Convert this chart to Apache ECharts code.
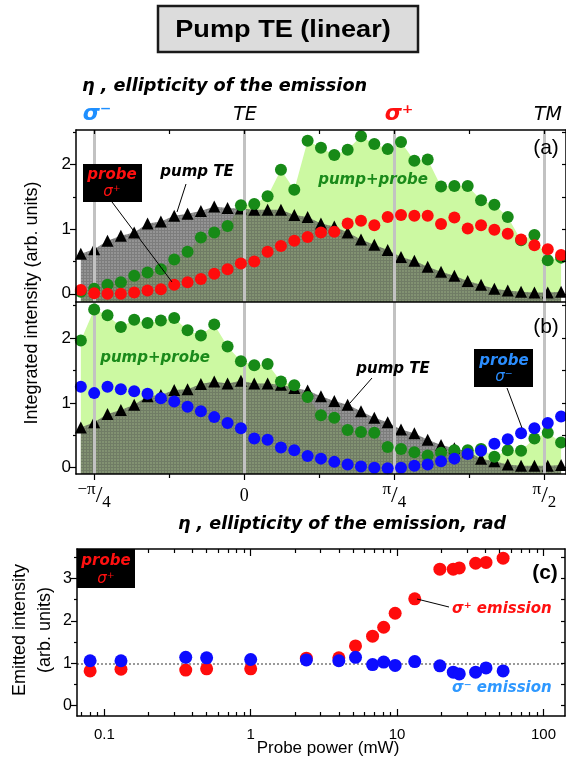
<!DOCTYPE html>
<html><head><meta charset="utf-8">
<script src="https://cdn.jsdelivr.net/npm/echarts@6/dist/echarts.min.js"></script>
<style>html,body{margin:0;padding:0;background:#fff}#c{width:566px;height:760px}</style>
</head><body><div id="c"></div>
<script>
// ---------- DATA ----------
const etaDeg = [-49,-45,-41,-37,-33,-29,-25,-21,-17,-13,-9,-5,-1,3,7,11,15,19,23,27,31,35,39,43,47,51,55,59,63,67,71,75,79,83,87,91,95];
// panel (a): probe sigma+
const pumpTE_a = [0.62,0.69,0.82,0.90,0.95,1.09,1.12,1.21,1.24,1.28,1.35,1.33,1.32,1.30,1.30,1.30,1.22,1.19,1.09,1.04,0.95,0.84,0.76,0.68,0.57,0.51,0.42,0.34,0.28,0.20,0.14,0.08,0.05,0.03,0.02,0.02,0.03];
const pumpProbe_a = [0.03,0.08,0.14,0.18,0.28,0.33,0.38,0.53,0.65,0.87,0.95,1.05,1.37,1.39,1.51,1.92,1.61,2.37,2.26,2.15,2.23,2.44,2.32,2.24,2.35,2.06,2.08,1.66,1.67,1.67,1.45,1.38,1.19,0.83,0.91,0.52,0.56];
const probePlus_a = [0.06,0.01,0.00,0.00,0.02,0.05,0.07,0.14,0.18,0.23,0.31,0.38,0.47,0.50,0.65,0.74,0.82,0.88,0.95,0.96,1.09,1.13,1.06,1.19,1.22,1.21,1.21,1.08,1.18,1.01,1.06,0.99,0.93,0.84,0.75,0.69,0.60];
// panel (b): probe sigma-
const pumpTE_b = [0.62,0.70,0.83,0.89,0.97,1.10,1.12,1.20,1.21,1.29,1.33,1.30,1.34,1.30,1.30,1.28,1.23,1.19,1.10,1.03,0.97,0.87,0.77,0.70,0.59,0.53,0.43,0.35,0.30,0.25,0.14,0.10,0.05,0.03,0.03,0.03,0.04];
const pumpProbe_b = [1.96,2.44,2.35,2.17,2.28,2.23,2.27,2.31,2.12,2.04,2.21,1.87,1.64,1.58,1.60,1.33,1.27,1.09,0.81,0.77,0.58,0.55,0.54,0.32,0.29,0.24,0.19,0.23,0.27,0.27,0.29,0.17,0.27,0.26,0.45,0.54,0.39];
const probeMinus_b = [1.25,1.15,1.25,1.21,1.18,1.14,1.07,1.02,0.94,0.87,0.78,0.69,0.61,0.45,0.43,0.31,0.27,0.18,0.14,0.09,0.05,0.02,0.00,-0.01,0.00,0.03,0.05,0.10,0.14,0.21,0.26,0.37,0.44,0.53,0.61,0.69,0.79];
// panel (c)
const powerMW = [0.08,0.13,0.36,0.50,1.0,2.4,4.0,5.2,6.8,8.1,9.7,13.2,19.6,24.2,26.6,34.4,40.5,53];
const sigmaPlus_c = [0.82,0.86,0.84,0.87,0.87,1.12,1.13,1.41,1.64,1.85,2.18,2.52,3.22,3.22,3.25,3.36,3.38,3.48];
const sigmaMinus_c = [1.06,1.06,1.14,1.13,1.09,1.08,1.06,1.14,0.97,1.03,0.95,1.04,0.94,0.79,0.75,0.79,0.89,0.82];
// ticks
const etaTicks = [-45,0,45,90];
const etaTickLabels = ['−π/4','0','π/4','π/2'];
const etaMinorTicks = [-22.5,22.5,67.5];
const yTicksAB = [0,1,2];
const yTicksC = [0,1,2,3];
const powerTicks = [0.1,1,10,100];
const powerTickLabels = ['0.1','1','10','100'];

// ---------- LAYOUT ----------
const etaMin = -50.45, etaMax = 96.47;
const cMin = -1.1865, cMax = 2.147;
const toXY = (xs, ys) => xs.map((x,i)=>[x, ys[i]]);
const toLogXY = (xs, ys) => xs.map((x,i)=>[Math.log10(x), ys[i]]);

function hatch(){
  const c=document.createElement('canvas'); c.width=3; c.height=3;
  const g=c.getContext('2d');
  g.fillStyle='rgba(88,88,88,0.64)'; g.fillRect(0,0,3,3);
  g.fillStyle='rgba(70,70,70,0.30)'; g.fillRect(0,2,3,1); g.fillRect(2,0,1,2);
  return c;
}
const hatchPat = {image: hatch(), repeat:'repeat'};

const LINE = {show:true, onZero:false, lineStyle:{color:'#000', width:1.5}};
const NOLINE = {show:false, onZero:false};
function ax(o){
  return Object.assign({type:'value', splitLine:{show:false}, axisLine:LINE, axisTick:{show:false}, axisLabel:{show:false}, z:10, offset:0}, o);
}
function ticks(vals, len, inside){ return {show:true, customValues:vals, length:len, inside:!!inside, lineStyle:{color:'#000', width:1.2}}; }

const minorY = (max)=>{const r=[];for(let v=0.5;v<max;v+=1)r.push(v);return r;};
const halfY = (max)=>{const r=[];for(let v=0;v<max;v+=0.5)r.push(v);return r;};
const minorLog=[]; for(let e=-2;e<=2;e++)for(let k=2;k<=9;k++){const v=Math.log10(k*Math.pow(10,e)); if(v>cMin&&v<cMax)minorLog.push(v);}
const majorLog = powerTicks.map(p=>Math.log10(p));

const richPi = {
  n:{fontFamily:'Liberation Serif', fontSize:17, lineHeight:16, verticalAlign:'top', color:'#000'},
  sl:{fontFamily:'Liberation Serif', fontSize:24, lineHeight:30, verticalAlign:'middle', color:'#000'},
  d:{fontFamily:'Liberation Serif', fontSize:17, lineHeight:16, verticalAlign:'bottom', color:'#000'},
  z:{fontFamily:'Liberation Serif', fontSize:18, lineHeight:30, color:'#000'}
};
function etaFmt(v){
  const i = etaTicks.findIndex(t=>Math.abs(t-v)<1e-6); if(i<0) return '';
  const s = etaTickLabels[i];
  if(s.indexOf('/')<0) return '{z|'+s+'}';
  const p = s.split('/'); return '{n|'+p[0]+'}{sl|/}{d|'+p[1]+'}';
}
function powFmt(v){
  const i = majorLog.findIndex(t=>Math.abs(t-v)<1e-6); return i<0?'':powerTickLabels[i];
}

const yLabAB = {show:true, customValues:yTicksAB, fontSize:17, fontFamily:'Liberation Sans', color:'#000', margin:5};

const grids = [
  {left:76, top:130, width:493, height:172},
  {left:76, top:302, width:493, height:172},
  {left:77, top:549, width:488, height:167}
];
const xAxes = [
  ax({gridIndex:0, position:'bottom', min:etaMin, max:etaMax}),
  ax({gridIndex:0, position:'top', min:etaMin, max:etaMax, axisTick:ticks([-45,-22.5,0,22.5,45,67.5,90],4,true)}),
  ax({gridIndex:1, position:'bottom', min:etaMin, max:etaMax, axisTick:ticks(etaTicks,6,false),
      axisLabel:{show:true, customValues:etaTicks, formatter:etaFmt, rich:richPi, margin:7}}),
  ax({gridIndex:1, position:'bottom', min:etaMin, max:etaMax, axisLine:NOLINE, axisTick:ticks(etaMinorTicks,4,false)}),
  ax({gridIndex:2, position:'bottom', min:cMin, max:cMax, axisTick:ticks(majorLog,7,true),
      axisLabel:{show:true, customValues:majorLog, formatter:powFmt, fontSize:15, fontFamily:'Liberation Sans', color:'#000', margin:11}}),
  ax({gridIndex:2, position:'bottom', min:cMin, max:cMax, axisLine:NOLINE, axisTick:ticks(minorLog,4,true)}),
  ax({gridIndex:2, position:'top', min:cMin, max:cMax, axisTick:ticks(majorLog,7,true)}),
  ax({gridIndex:2, position:'top', min:cMin, max:cMax, axisLine:NOLINE, axisTick:ticks(minorLog,4,true)})
];
const yA = {min:-0.127, max:2.536}, yB = {min:-0.097, max:2.555}, yC = {min:-0.243, max:3.696};
const yAxes = [
  ax(Object.assign({gridIndex:0, position:'left', axisTick:ticks(yTicksAB,6,false), axisLabel:yLabAB}, yA)),
  ax(Object.assign({gridIndex:0, position:'left', axisLine:NOLINE, axisTick:ticks(minorY(yA.max),3,false)}, yA)),
  ax(Object.assign({gridIndex:0, position:'right', axisTick:ticks(halfY(yA.max),4,true)}, yA)),
  ax(Object.assign({gridIndex:1, position:'left', axisTick:ticks(yTicksAB,6,false), axisLabel:yLabAB}, yB)),
  ax(Object.assign({gridIndex:1, position:'left', axisLine:NOLINE, axisTick:ticks(minorY(yB.max),3,false)}, yB)),
  ax(Object.assign({gridIndex:1, position:'right', axisTick:ticks(halfY(yB.max),4,true)}, yB)),
  ax(Object.assign({gridIndex:2, position:'left', axisTick:ticks(yTicksC,6,false),
      axisLabel:{show:true, customValues:yTicksC, fontSize:16, fontFamily:'Liberation Sans', color:'#000', margin:5}}, yC)),
  ax(Object.assign({gridIndex:2, position:'left', axisLine:NOLINE, axisTick:ticks(minorY(yC.max),3,false)}, yC)),
  ax(Object.assign({gridIndex:2, position:'right', axisTick:ticks(halfY(yC.max),4,true)}, yC))
];

const GREEN='#178a17', RED='#ff0c0c', BLUE='#0c0cff', LGREEN='#ccf9a2';
function area(xi, yi, data, color, z){
  return {type:'line', xAxisIndex:xi, yAxisIndex:yi, data, symbol:'none', silent:true, z,
    lineStyle:{width:0}, areaStyle:{color, opacity:1, origin:'start'}};
}
function dots(xi, yi, data, color, sym, size, z){
  return {type:'scatter', xAxisIndex:xi, yAxisIndex:yi, data, symbol:sym, symbolSize:size, z,
    itemStyle:{color, opacity:1}, silent:true};
}
function vlines(xi, yi){
  return {type:'scatter', xAxisIndex:xi, yAxisIndex:yi, data:[], z:3, silent:true,
    markLine:{silent:true, symbol:'none', label:{show:false}, animation:false,
      lineStyle:{color:'#c2c2c2', width:3, type:'solid'},
      data: etaTicks.map(v=>({xAxis:v}))}};
}

const series = [
  area(0,0,toXY(etaDeg,pumpProbe_a),LGREEN,1),
  area(0,0,toXY(etaDeg,pumpTE_a),hatchPat,2),
  vlines(0,0),
  dots(0,0,toXY(etaDeg,pumpTE_a),'#000','triangle',12,4),
  dots(0,0,toXY(etaDeg,pumpProbe_a),GREEN,'circle',12,5),
  dots(0,0,toXY(etaDeg,probePlus_a),RED,'circle',12,6),

  area(2,3,toXY(etaDeg,pumpProbe_b),LGREEN,1),
  area(2,3,toXY(etaDeg,pumpTE_b),hatchPat,2),
  vlines(2,3),
  dots(2,3,toXY(etaDeg,pumpTE_b),'#000','triangle',12,4),
  dots(2,3,toXY(etaDeg,pumpProbe_b),GREEN,'circle',12,5),
  dots(2,3,toXY(etaDeg,probeMinus_b),BLUE,'circle',12,6),

  {type:'scatter', xAxisIndex:4, yAxisIndex:6, data:[], z:3, silent:true,
    markLine:{silent:true, symbol:'none', label:{show:false}, animation:false,
      lineStyle:{color:'#999', width:2, type:'dotted'}, data:[{yAxis:1}]}},
  dots(4,6,toLogXY(powerMW,sigmaPlus_c),RED,'circle',13,5),
  dots(4,6,toLogXY(powerMW,sigmaMinus_c),BLUE,'circle',13,6)
];

// ---------- ANNOTATIONS ----------
const BI = 'italic bold 15px "DejaVu Sans"';
function T(x,y,text,font,fill,align,rot,sx){
  return {type:'text', x, y, rotation:rot||0, scaleX:sx||1, z:100,
    style:{text, font, fill:fill||'#000', textAlign:align||'center', textVerticalAlign:'middle'}};
}
function R(x,y,w,h,fill,stroke,lw){ return {type:'rect', z:99, shape:{x,y,width:w,height:h}, style:{fill, stroke:stroke||null, lineWidth:lw||0}}; }
function L(x1,y1,x2,y2){ return {type:'line', z:100, shape:{x1,y1,x2,y2}, style:{stroke:'#000', lineWidth:1}}; }
const TXTBLUE='#2b8eff';
const graphic = [
  R(158,6,260,46,'#dcdcdc','#1a1a1a',2.5),
  T(283,30,'Pump TE (linear)','bold 24px "Liberation Sans"','#000','center',0,1.13),
  T(82,87,'η , ellipticity of the emission','italic bold 17px "DejaVu Sans"','#000','left',0,1.04),
  T(97,114,'σ⁻','italic bold 22px "DejaVu Sans"','#1e8fff'),
  T(245,115,'TE','italic 19px "DejaVu Sans"','#000'),
  T(399,114,'σ⁺','italic bold 22px "DejaVu Sans"','#ff1010'),
  T(548,115,'TM','italic 19px "DejaVu Sans"','#000'),
  T(546,148,'(a)','21px "Liberation Sans"','#000'),
  T(546,327,'(b)','21px "Liberation Sans"','#000'),
  T(545,573,'(c)','bold 21px "Liberation Sans"','#000'),
  // panel a
  R(83,164,59,38,'#000'),
  T(112,175,'probe',BI,'#ff1010'),
  T(112,192,'σ⁺','italic 15px "DejaVu Sans"','#ff1010'),
  L(112,202,172,282),
  T(197,172,'pump TE',BI,'#000'),
  L(186,184,177,212),
  T(373,180,'pump+probe',BI,'#1a8a1a'),
  // panel b
  T(155,358,'pump+probe',BI,'#1a8a1a'),
  T(393,369,'pump TE',BI,'#000'),
  L(372,378,350,403),
  R(474,349,59,38,'#000'),
  T(504,361,'probe',BI,TXTBLUE),
  T(504,377,'σ⁻','italic 15px "DejaVu Sans"',TXTBLUE),
  L(507,388,522,428),
  // panel c
  R(77,549,58,39,'#000'),
  T(106,561,'probe',BI,'#ff1010'),
  T(106,579,'σ⁺','italic 15px "DejaVu Sans"','#ff1010'),
  L(417,599,449,607),
  T(452,609,'σ⁺ emission','italic bold 15px "DejaVu Sans"','#ff1010','left'),
  T(452,688,'σ⁻ emission','italic bold 15px "DejaVu Sans"','#2e98ff','left'),
  // axis titles
  T(32,303,'Integrated intensity (arb. units)','18px "Liberation Sans"','#000','center',Math.PI/2),
  T(20,630,'Emitted intensity','18px "Liberation Sans"','#000','center',Math.PI/2),
  T(45,630,'(arb. units)','18px "Liberation Sans"','#000','center',Math.PI/2),
  T(342,525,'η , ellipticity of the emission, rad','italic bold 17px "DejaVu Sans"','#000','center',0,1.03),
  T(328,748,'Probe power (mW)','17px "Liberation Sans"','#000')
];

const chart = echarts.init(document.getElementById('c'), null, {renderer:'canvas', width:566, height:760});
chart.setOption({animation:false, backgroundColor:'#fff', grid:grids, xAxis:xAxes, yAxis:yAxes, series, graphic});
</script></body></html>
